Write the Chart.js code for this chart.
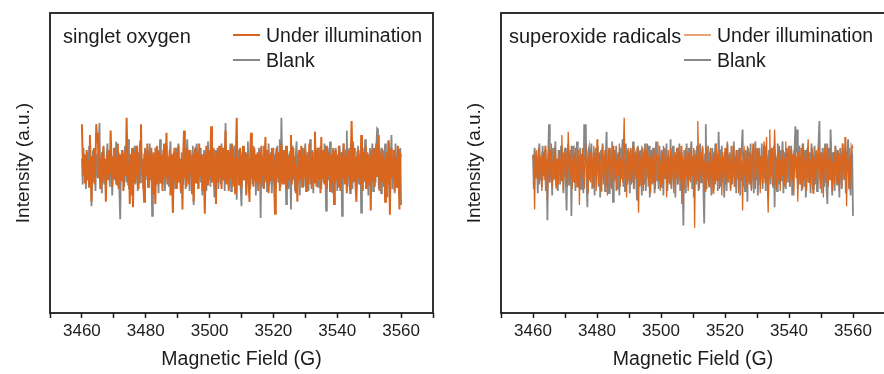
<!DOCTYPE html>
<html>
<head>
<meta charset="utf-8">
<title>EPR spectra</title>
<script src="https://cdn.jsdelivr.net/npm/chart.js@4.4.1/dist/chart.umd.min.js"></script>
<style>
  html, body { margin: 0; padding: 0; background: #fff; overflow: hidden; }
  #wrap { position: relative; width: 884px; height: 374px; overflow: hidden; }
  #left { position: absolute; left: 0; top: 0; }
  #right { position: absolute; left: 442px; top: 0; }
</style>
</head>
<body>
<div id="wrap">
  <canvas id="left" width="442" height="374"></canvas>
  <canvas id="right" width="450" height="374"></canvas>
</div>
<script>
// sampling grid of the spectra (G)
const FIELD_START = 3460;
const FIELD_STEP = 0.25;

const xTicks = [3460, 3480, 3500, 3520, 3540, 3560];
const seriesNames = ['Under illumination', 'Blank'];
const panelTitles = ['singlet oxygen', 'superoxide radicals'];

// singlet oxygen - under illumination (a.u.)
const singletLight = [
  42, 10, -6, 14, -12, 4, 18, -10, 8, -16, 32, 6, -30, 12, -4, 20, -14, 8, 42, 26,
  34, -8, 12, -18, 6, 16, -12, 22, -6, 10, -30, 4, 14, -10, 18, -4, 36, 8, -16, 12,
  -8, 20, 4, -14, 10, 24, -18, 6, 14, -10, 2, 18, -20, 8, 16, -6, 48, 12, -14, 6,
  -32, 14, 4, 20, -35, 8, 16, -12, 22, -6, 10, -18, 12, 26, 42, -4, 8, -14, -30, 12,
  18, -6, 24, -16, 6, 14, -10, 20, -22, 4, 16, -8, -32, 10, 22, -14, 6, 18, -12, 8,
  14, -20, 10, 24, -8, 6, 34, -14, 12, -6, 18, -24, 8, 14, -40, 4, 20, -10, 16, -18,
  6, 22, -12, 10, -20, 4, -37, 16, 36, -8, 12, -16, 20, 6, -14, 18, -4, 10, -22, 14,
  -30, 8, 20, -12, 4, 16, -18, 24, -6, 12, 8, -20, 14, -10, -41, 6, 22, -14, 10, 18,
  -8, 14, 40, -12, 6, 20, -16, 10, -32, 16, 4, -12, 22, -6, 14, -18, 8, 20, -10, 12,
  36, -14, 6, 18, -20, 10, 14, -8, 24, -16, 6, 12, -22, 16, 48, -6, 10, -14, 20, 4,
  -18, 12, 22, -10, 6, 16, -24, 8, 14, -12, -30, 18, 34, -8, 10, -16, 20, 4, -12, 14,
  8, -20, 16, 6, -14, 22, -6, 12, -18, 10, 30, -12, 6, 18, -22, 8, 14, -10, 20, -4,
  10, -16, -41, 12, 20, -8, 6, 16, -20, 10, 24, -12, 4, 18, -14, 8, 22, -18, 6, 12,
  -10, 16, 32, -14, 8, 20, -6, 12, -22, 4, -30, 14, 18, -10, 6, 22, -16, 10, 14, -8,
  18, -20, 6, 12, -14, 24, -6, 10, -18, 16, 4, -12, 35, 8, -16, 14, 20, -10, 6, -22,
  30, -8, 12, 18, -14, 6, 22, -18, 10, -6, 16, -20, 8, 14, -12, 20, -32, 6, 18, -10,
  12, -16, 22, 4, -20, 10, 16, -8, 24, -14, 6, 12, -22, 18, -6, 10, -18, 14, 45, 8,
  -12, 20, 6, -16, -30, 12, 18, -8, 10, -14, 32, 4, -20, 16, 8, -10, 22, -18, 6, 14,
  -14, 10, -38, 18, 6, -10, 20, -16, 12, 24, -6, 8, 32, -20, 14, 4, -12, 18, -8, 10,
  -30, 16, 6, -14, 27, 10, -42, 14, 20, -8, 6, 18, -20, 12, 4, -16, 22, -10, -37, 14,
  12
];

// singlet oxygen - blank
const singletBlank = [
  10, -14, 20, -6, 12, -18, 8, 16, -10, 22, -4, 12, -34, 6, 18, -12, 10, -20, 14, 4,
  -8, 16, 43, -10, 6, -22, 14, 20, -14, 8, -18, 12, 24, -6, 10, -16, 18, 6, -24, 12,
  20, -10, 8, 26, -14, 6, 16, -20, -46, 10, 18, -8, 14, -16, 22, 4, -12, 10, 28, -18,
  6, 14, -24, 10, 18, -8, 22, -14, 6, 12, -20, 16, 8, -12, 24, -6, 10, -18, 14, 20,
  -10, 6, 18, -16, 12, 24, -8, 10, -43, 14, 6, -18, 20, -10, 16, 8, -22, 12, 28, -6,
  10, -14, 18, 6, -20, 14, 22, -10, 8, -16, 12, 26, -12, 6, -40, 16, 10, -18, 20, -8,
  14, 24, -12, 8, -22, 16, 6, -14, 20, 10, -18, 12, 28, -8, 6, -20, 18, 10, -14, 22,
  -33, 12, 16, -10, 24, 6, -18, 10, 20, -12, 14, -24, 8, 18, -6, 12, -20, 16, 26, -10,
  8, -16, 14, 22, -12, 6, -26, 18, 10, -8, 20, -18, 12, 6, -14, 24, -10, 16, 8, -20,
  43, -12, 10, 18, -16, 6, 24, -20, 12, -8, 16, 22, -14, 8, -28, 10, 18, -6, 14, -18,
  -34, 12, 20, -10, 6, 16, -22, 14, 26, -8, 10, -18, 18, 6, -14, 22, -10, 12, -24, 8,
  16, -12, 20, 6, -45, 14, 10, -16, 22, -8, 12, 18, -20, 6, 24, -14, 10, 16, -22, 8,
  20, -10, 14, -18, 6, 22, -12, 10, 28, -16, 48, 6, -14, 18, -8, 12, -32, 20, 10, -18,
  14, 6, -37, 16, 22, -10, 8, -20, 12, 26, -14, 6, 18, -24, 10, 14, -8, 20, -16, 12,
  24, -10, 6, 16, -20, 12, 28, -14, 8, 18, -22, 10, 35, -12, 6, 20, -16, 14, -8, 22,
  -18, 10, 16, -12, 24, 6, -38, 14, 20, -10, 8, 26, -16, 12, -22, 18, 6, -14, 20, 10,
  -20, 14, 8, 22, -12, 16, -43, 10, 24, -8, 12, 18, 36, -16, 6, 20, -22, 14, 10, -18,
  26, -10, 12, 6, -20, 16, 22, -14, 8, 18, -40, 12, 20, -12, 6, 28, -18, 10, 16, -24,
  12, 20, -14, 8, 24, -20, 10, 16, -12, 22, 38, 37, -18, 10, 14, -22, 20, 6, -16, 12,
  24, -10, 8, -26, 16, 20, -14, 10, 32, -18, 12, 6, -22, 24, 10, -16, 18, -8, 14, 20,
  -33
];

// superoxide radicals - under illumination
const superLight = [
  14, 4, -37, 10, 18, -8, 6, 20, -14, 8, 12, -20, 6, 16, -10, 22, -6, 10, -30, 12,
  18, -12, 8, 24, -16, 6, 14, -8, 20, -18, 10, 4, -14, 18, 8, -10, 32, 6, -20, 12,
  16, -8, 10, -16, 35, 12, -10, 6, 22, -18, 8, 14, -12, 20, 4, -16, 10, 18, -33, 8,
  14, -10, 20, 6, -18, 12, 24, -8, 10, -22, 16, 6, -12, 18, 10, -16, 22, -6, 12, -20,
  28, 8, -14, 16, 4, -20, 12, 22, -10, 6, 18, -16, 10, -24, 14, 20, -8, 12, -18, 6,
  22, -12, 10, 16, -20, 8, 14, -6, 24, -16, 10, 4, -12, 18, 48, -8, 6, -26, 14, 20,
  -10, 12, 18, -14, 6, 22, -18, 10, 14, -8, 20, -12, -40, 16, 8, -14, 22, 6, -20, 12,
  18, -10, 8, 24, -16, 12, 6, -22, 16, 10, -12, 20, 4, -18, 14, 8, 26, -10, 12, -20,
  6, 16, -14, 22, 10, -8, 14, -26, 8, 18, -12, 6, 20, -16, 12, 4, -22, 16, 10, -8,
  20, -14, 8, 16, -10, 22, -32, 12, 6, -18, 14, 20, -8, 10, -20, 16, 6, -12, 24, -6,
  12, 20, -54, 8, 14, -10, 45, 6, -18, 16, 10, -12, 22, -6, 8, -20, 14, 18, -10, 6,
  -16, 12, 20, -8, 10, -22, 16, 6, -14, 24, -10, 8, 18, -18, 12, 4, -24, 16, 10, -8,
  20, -14, 6, 26, -12, 10, 16, -20, 8, -10, 22, 12, -16, 6, 18, -8, 14, -22, 10, 20,
  -10, 8, -38, 14, 18, -6, 10, -16, 22, 6, -12, 16, 10, -20, 12, 24, -8, 6, -18, 14,
  20, -10, 8, 16, -22, 12, 6, -14, 18, 26, -12, 8, 30, -16, -40, 10, 37, -8, 14, 20,
  -14, 6, 37, 12, -18, 10, 16, -10, 22, -20, 8, 14, -6, 18, -16, 10, 26, -12, 6, 20,
  12, -16, 8, 22, -10, 14, -24, 6, 18, -8, 12, -30, 16, 10, -14, 20, 6, -18, 24, -10,
  8, 14, -20, 16, 28, -12, 10, -16, 6, 20, -22, 12, 8, -10, 18, 4, -14, 22, 10, -18,
  16, -8, 12, -26, 20, 6, -12, 14, 24, -16, 8, 18, -10, 12, -20, 6, 16, -14, 22, 10,
  -12, 18, 8, -20, 14, 6, -16, 24, 10, -8, 30, 14, -34, 16, 6, -18, 20, -10, 12, 22,
  20
];

// superoxide radicals - blank
const superBlank = [
  13, -18, 20, -8, 14, 6, -22, 16, 24, -10, 8, -16, 22, -6, 12, 18, -20, 10, -47, 14,
  42, -12, 16, 6, -24, 20, -10, 12, 26, -16, 8, -20, 18, 10, -14, 22, -8, 16, -22, 12,
  20, -10, -38, 14, 24, -14, 8, 18, -43, 10, 22, -12, 16, -20, 6, 26, -16, 12, -8, 20,
  -18, 14, 8, -22, 42, 10, 42, -14, -35, 16, 20, -10, 12, 24, -18, 8, 16, -24, 20, -6,
  14, 22, -16, 10, -26, 18, 6, 24, -14, 12, -20, 16, 35, -12, 8, -22, 20, 10, -16, 26,
  -30, 12, 18, -10, 22, -18, 8, 16, -24, 20, -8, 14, 28, -16, 10, -20, 24, 6, -14, 18,
  10, -22, 20, 14, -12, 26, -18, 8, 16, -10, -28, 22, 12, -16, 18, 6, -24, 20, 10, -14,
  24, -20, 12, 16, -8, 22, -26, 10, 18, -14, 20, 6, -22, 14, 26, -10, 12, -18, 22, 8,
  -16, 18, 10, -24, 20, -8, 14, 24, -20, 12, 6, -14, 28, -18, 10, 22, -12, 16, -26, 8,
  20, -14, 12, 24, -20, 10, 16, -12, -52, 18, 8, -22, 24, 10, -16, 20, -10, 14, 26, -18,
  12, -26, 18, 8, -14, 22, 10, -20, 16, 24, -12, 8, 20, -16, -50, 14, 42, -18, 10, 22,
  -14, 16, 8, -24, 20, 12, -18, 10, 24, -10, 14, -20, 35, 8, -16, 18, 22, -12, 6, -26,
  16, 10, -20, 24, -12, 14, 8, -18, 22, -14, 10, 26, -16, 12, -22, 18, 6, -10, 20, -24,
  14, 22, 37, -16, 10, -20, 18, 12, -30, 20, 8, -14, 24, -18, 10, 16, -22, 12, 26, -10,
  18, -24, 8, 20, -14, 12, 24, -18, 10, -8, 22, -20, 14, 6, -26, 18, 10, -14, 20, 12,
  -16, 22, -35, 14, 8, -20, 24, 10, -14, 18, -10, 12, 26, -22, 8, 16, -18, 20, 10, -12,
  22, -16, 12, 18, -24, 10, 14, 20, 40, 16, 37, -18, 8, 22, -14, 12, -20, 24, 10, -16,
  18, -26, 10, 20, -12, 16, 6, -22, 24, 12, -18, 10, 22, -14, 16, -20, 8, 26, 45, -10,
  14, -22, 20, 10, -16, 24, 8, -18, -32, 14, 20, -10, 37, 12, -24, 16, 8, -20, 22, 10,
  -14, 18, 12, -26, 20, 8, -18, 24, 14, -10, 16, -22, 10, 20, 28, -16, 12, -24, 18, 14,
  -43
];

const ORANGE = '#d9661f';
const GREY = '#878787';
const TEXT = '#1c1c1c';
const FONT = '"Liberation Sans", Arial, Helvetica, sans-serif';

function toPoints(values) {
  return values.map((v, i) => ({ x: FIELD_START + i * FIELD_STEP, y: v }));
}

// frame around the plot area
const frame = {
  id: 'frame',
  afterDatasetsDraw(chart) {
    const a = chart.chartArea;
    const ctx = chart.ctx;
    ctx.save();
    ctx.strokeStyle = TEXT;
    ctx.lineWidth = 1.8;
    ctx.strokeRect(a.left, a.top, a.right - a.left, a.bottom - a.top);
    ctx.restore();
  }
};

// panel title and legend inside the box
const panelLegend = {
  id: 'panelLegend',
  afterDraw(chart, args, opts) {
    const a = chart.chartArea;
    const ctx = chart.ctx;
    ctx.save();
    ctx.fillStyle = TEXT;
    ctx.textBaseline = 'middle';
    ctx.font = '20px ' + FONT;
    ctx.fillText(opts.title, a.left + opts.titleX, 37);
    ctx.font = '19.5px ' + FONT;
    chart.data.datasets.forEach((ds, i) => {
      const y = 35 + i * 25;
      ctx.strokeStyle = ds.borderColor;
      ctx.lineWidth = opts.sampleWidths[i];
      ctx.beginPath();
      ctx.moveTo(a.left + 183, y);
      ctx.lineTo(a.left + 210, y);
      ctx.stroke();
      ctx.fillText(ds.label, a.left + 216, y + 1.5);
    });
    ctx.restore();
  }
};

function makeChart(id, title, lightVals, blankVals, widths, sampleWidths, padLeft, padRight, titleX) {
  const ctx = document.getElementById(id).getContext('2d');
  return new Chart(ctx, {
    type: 'line',
    data: {
      datasets: [
        { label: seriesNames[0], data: toPoints(lightVals), borderColor: ORANGE, borderWidth: widths[0], pointRadius: 0, tension: 0 },
        { label: seriesNames[1], data: toPoints(blankVals), borderColor: GREY, borderWidth: widths[1], pointRadius: 0, tension: 0 }
      ]
    },
    options: {
      responsive: false,
      animation: false,
      devicePixelRatio: 1,
      layout: { padding: { left: padLeft, right: padRight, top: 13, bottom: 0 } },
      plugins: {
        legend: { display: false },
        tooltip: { enabled: false },
        panelLegend: { title: title, titleX: titleX, sampleWidths: sampleWidths }
      },
      scales: {
        x: {
          type: 'linear',
          min: 3450,
          max: 3570,
          afterFit: s => { s.height = 61; },
          ticks: {
            stepSize: 10,
            autoSkip: false,
            maxRotation: 0,
            padding: 3,
            color: TEXT,
            font: { family: FONT, size: 17 },
            callback: v => (xTicks.includes(v) ? String(v) : '')
          },
          grid: { display: true, drawOnChartArea: false, drawTicks: true, tickLength: 5, tickWidth: 1.5, tickColor: TEXT },
          border: { display: false },
          title: {
            display: true,
            text: 'Magnetic Field (G)',
            color: TEXT,
            font: { family: FONT, size: 19.5 },
            padding: { top: 0, bottom: 3 }
          }
        },
        y: {
          type: 'linear',
          min: -133,
          max: 145,
          afterFit: s => { s.width = 50; },
          ticks: { display: false },
          grid: { display: false },
          border: { display: false },
          title: {
            display: true,
            text: 'Intensity (a.u.)',
            color: TEXT,
            font: { family: FONT, size: 19 },
            padding: { top: 12, bottom: 0 }
          }
        }
      }
    },
    plugins: [frame, panelLegend]
  });
}

makeChart('left', panelTitles[0], singletLight, singletBlank, [2, 1.8], [2, 2], 0, 9, 13);
makeChart('right', panelTitles[1], superLight, superBlank, [1.3, 1.8], [1.2, 2], 9, 7, 8);
</script>
</body>
</html>
